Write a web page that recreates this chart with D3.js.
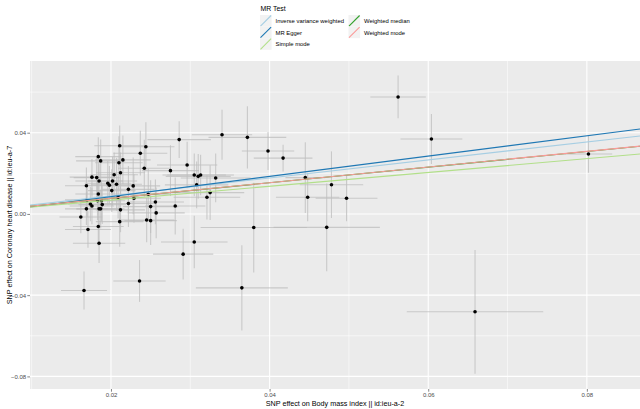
<!DOCTYPE html>
<html>
<head>
<meta charset="utf-8">
<script src="https://cdn.jsdelivr.net/npm/d3@7"></script>
<style>
  html, body { margin: 0; padding: 0; background: #ffffff; }
  svg { display: block; font-family: "Liberation Sans", Arial, sans-serif; }
</style>
</head>
<body>
<svg id="chart" width="640" height="409"></svg>
<script>
// ---- data ----
const snpX = [0.0562,0.0604,0.0802,0.0659,0.0340,0.0372,0.0398,0.0417,0.0445,0.0478,0.0448,0.0497,0.0380,0.0472,0.0305,0.0291,0.0365,0.0236,0.0166,0.0171,0.0184,0.0211,0.0185,0.0245,0.0250,
  0.0211,0.0244,0.0286,0.0237,0.0184,0.0187,0.0215,0.0210,0.0296,0.0242,0.0212,0.0275,0.0204,0.0176,0.0182,0.0185,0.0202,0.0196,0.0198,0.0207,0.0169,0.0201,0.0222,0.0228,
  0.0305,0.0310,0.0313,0.0308,0.0332,0.0325,0.0321,0.0184,0.0209,0.0170,0.0183,0.0188,0.0229,0.0247,0.0256,0.0174,0.0176,0.0189,0.0222,0.0250,0.0281,0.0169,0.0185,0.0187,0.0212,0.0257,0.0162];
const snpY = [0.0576,0.0369,0.0295,-0.0482,0.0390,0.0377,0.0310,0.0275,0.0179,0.0144,0.0082,0.0077,-0.0067,-0.0066,-0.0138,-0.0198,-0.0364,-0.0330,-0.0377,-0.0077,-0.0062,-0.0038,-0.0144,-0.0030,-0.0033,
  0.0336,0.0331,0.0366,0.0299,0.0282,0.0261,0.0266,0.0252,0.0241,0.0225,0.0203,0.0213,0.0193,0.0181,0.0179,0.0162,0.0162,0.0151,0.0141,0.0146,0.0139,0.0115,0.0121,0.0138,
  0.0192,0.0185,0.0192,0.0143,0.0177,0.0105,0.0082,0.0098,0.0082,0.0069,0.0065,0.0065,0.0077,0.0097,0.0059,0.0049,0.0039,0.0046,0.0051,0.0036,0.0039,0.0025,0.0025,0.0025,0.0020,0.0005,-0.0015];
const seX = [0.0035,0.0039,0.0030,0.0086,0.0038,0.0049,0.0033,0.0037,0.0025,0.0040,0.0040,0.0039,0.0067,0.0067,0.0042,0.0038,0.0058,0.0033,0.0029,0.0029,0.0032,0.0030,0.0033,0.0035,0.0033,
  0.0032,0.0036,0.0040,0.0034,0.0029,0.0031,0.0035,0.0030,0.0038,0.0033,0.0031,0.0036,0.0030,0.0028,0.0029,0.0030,0.0031,0.0029,0.0030,0.0032,0.0027,0.0030,0.0033,0.0034,
  0.0040,0.0041,0.0042,0.0040,0.0044,0.0043,0.0042,0.0029,0.0031,0.0028,0.0029,0.0030,0.0034,0.0035,0.0036,0.0028,0.0028,0.0030,0.0032,0.0035,0.0038,0.0027,0.0029,0.0030,0.0031,0.0036,0.0027];
const seY = [0.0105,0.0123,0.0092,0.0305,0.0123,0.0153,0.0094,0.0066,0.0174,0.0164,0.0118,0.0113,0.0221,0.0216,0.0129,0.0125,0.0210,0.0103,0.0093,0.0090,0.0095,0.0123,0.0098,0.0110,0.0120,
  0.0100,0.0120,0.0090,0.0110,0.0095,0.0105,0.0120,0.0130,0.0115,0.0140,0.0100,0.0125,0.0110,0.0090,0.0100,0.0085,0.0120,0.0110,0.0095,0.0130,0.0090,0.0105,0.0115,0.0140,
  0.0105,0.0110,0.0100,0.0115,0.0120,0.0135,0.0110,0.0090,0.0105,0.0085,0.0095,0.0100,0.0120,0.0125,0.0110,0.0085,0.0090,0.0095,0.0115,0.0130,0.0140,0.0080,0.0090,0.0095,0.0110,0.0125,0.0080];

const methods = ["Inverse variance weighted","MR Egger","Simple mode","Weighted median","Weighted mode"];
const methodColors = ["#A6CEE3","#1F78B4","#B2DF8A","#33A02C","#FB9A99"];
const slopes = [0.443, 0.500, 0.340, 0.384, 0.385];
const intercepts = [0, -0.0015, 0, 0, 0];

const xTicks = [0.02,0.04,0.06,0.08];
const yTicks = [-0.08,-0.04,0.00,0.04];
const xMinor = [0.01,0.03,0.05,0.07];
const yMinor = [-0.06,-0.02,0.02,0.06];

// ---- layout ----
const svg = d3.select("#chart");
const P = {left: 30, right: 640, top: 61, bottom: 389};

const x = d3.scaleLinear().domain([0.00979, 0.0867]).range([P.left, P.right]);
const y = d3.scaleLinear().domain([-0.0862, 0.0753]).range([P.bottom, P.top]);

svg.append("defs").append("clipPath").attr("id","panel")
  .append("rect").attr("x",P.left).attr("y",P.top).attr("width",P.right-P.left).attr("height",P.bottom-P.top);

svg.append("rect").attr("x",P.left).attr("y",P.top).attr("width",P.right-P.left).attr("height",P.bottom-P.top).attr("fill","#EBEBEB");

const grid = svg.append("g");
grid.selectAll(".ymin").data(yMinor).join("line")
  .attr("x1",P.left).attr("x2",P.right).attr("y1",d=>y(d)).attr("y2",d=>y(d))
  .attr("stroke","#ffffff").attr("stroke-width",0.55);
grid.selectAll(".xmin").data(xMinor).join("line")
  .attr("y1",P.top).attr("y2",P.bottom).attr("x1",d=>x(d)).attr("x2",d=>x(d))
  .attr("stroke","#ffffff").attr("stroke-width",0.55);
grid.selectAll(".ymaj").data(yTicks).join("line")
  .attr("x1",P.left).attr("x2",P.right).attr("y1",d=>y(d)).attr("y2",d=>y(d))
  .attr("stroke","#ffffff").attr("stroke-width",1.1);
grid.selectAll(".xmaj").data(xTicks).join("line")
  .attr("y1",P.top).attr("y2",P.bottom).attr("x1",d=>x(d)).attr("x2",d=>x(d))
  .attr("stroke","#ffffff").attr("stroke-width",1.1);

const pts = snpX.map((v,i)=>({x:v, y:snpY[i], sx:seX[i], sy:seY[i]}));
const plot = svg.append("g").attr("clip-path","url(#panel)");

plot.selectAll(".ev").data(pts).join("line")
  .attr("x1",d=>x(d.x)).attr("x2",d=>x(d.x))
  .attr("y1",d=>y(d.y-d.sy)).attr("y2",d=>y(d.y+d.sy))
  .attr("stroke","#BEBEBE").attr("stroke-width",1.1).attr("opacity",0.75);
plot.selectAll(".eh").data(pts).join("line")
  .attr("y1",d=>y(d.y)).attr("y2",d=>y(d.y))
  .attr("x1",d=>x(d.x-d.sx)).attr("x2",d=>x(d.x+d.sx))
  .attr("stroke","#BEBEBE").attr("stroke-width",1.1).attr("opacity",0.75);
plot.selectAll(".pt").data(pts).join("circle")
  .attr("cx",d=>x(d.x)).attr("cy",d=>y(d.y)).attr("r",1.8).attr("fill","#000");

const dom = x.domain();
methods.forEach((m,i)=>{
  plot.append("line")
    .attr("x1",x(dom[0])).attr("x2",x(dom[1]))
    .attr("y1",y(intercepts[i]+slopes[i]*dom[0])).attr("y2",y(intercepts[i]+slopes[i]*dom[1]))
    .attr("stroke",methodColors[i]).attr("stroke-width",1.1);
});

// axes
const xAxis = svg.append("g").attr("transform",`translate(0,${P.bottom})`)
  .call(d3.axisBottom(x).tickValues(xTicks).tickSize(2.7).tickPadding(1.2).tickFormat(d3.format(".2f")));
const yAxis = svg.append("g").attr("transform",`translate(${P.left},0)`)
  .call(d3.axisLeft(y).tickValues(yTicks).tickSize(2.7).tickPadding(1.2).tickFormat(d3.format(".2f")));
[xAxis,yAxis].forEach(a=>{
  a.select(".domain").remove();
  a.selectAll(".tick line").attr("stroke","#333333").attr("stroke-width",0.6);
  a.selectAll(".tick text").attr("fill","#4D4D4D").attr("font-size","6.0px").attr("font-family","Liberation Sans, Arial, sans-serif");
});

svg.append("text").attr("x",(P.left+P.right)/2).attr("y",405.5)
  .attr("text-anchor","middle").attr("font-size","7.2px").attr("fill","#000")
  .text("SNP effect on Body mass index || id:ieu-a-2");
svg.append("text").attr("transform",`translate(11.5,${(P.top+P.bottom)/2}) rotate(-90)`)
  .attr("text-anchor","middle").attr("font-size","7.2px").attr("fill","#000")
  .text("SNP effect on Coronary heart disease || id:ieu-a-7");

// legend
const leg = svg.append("g");
leg.append("text").attr("x",260.5).attr("y",10.5).attr("font-size","6.9px").attr("fill","#000").text("MR Test");
const legPos = [[260,15],[260,26.6],[260,38.2],[348.5,15],[348.5,26.6]];
const legOrder = ["Inverse variance weighted","MR Egger","Simple mode","Weighted median","Weighted mode"];
legOrder.forEach((m,k)=>{
  const i = methods.indexOf(m);
  const [lx,ly] = legPos[k];
  leg.append("rect").attr("x",lx).attr("y",ly).attr("width",11.6).attr("height",11.6).attr("fill","#F2F2F2");
  leg.append("line").attr("x1",lx+0.5).attr("y1",ly+11.1).attr("x2",lx+11.1).attr("y2",ly+0.5)
    .attr("stroke",methodColors[i]).attr("stroke-width",1.1);
  leg.append("text").attr("x",lx+15.5).attr("y",ly+8.0).attr("font-size","5.9px").attr("fill","#000").text(m);
});
</script>
</body>
</html>
